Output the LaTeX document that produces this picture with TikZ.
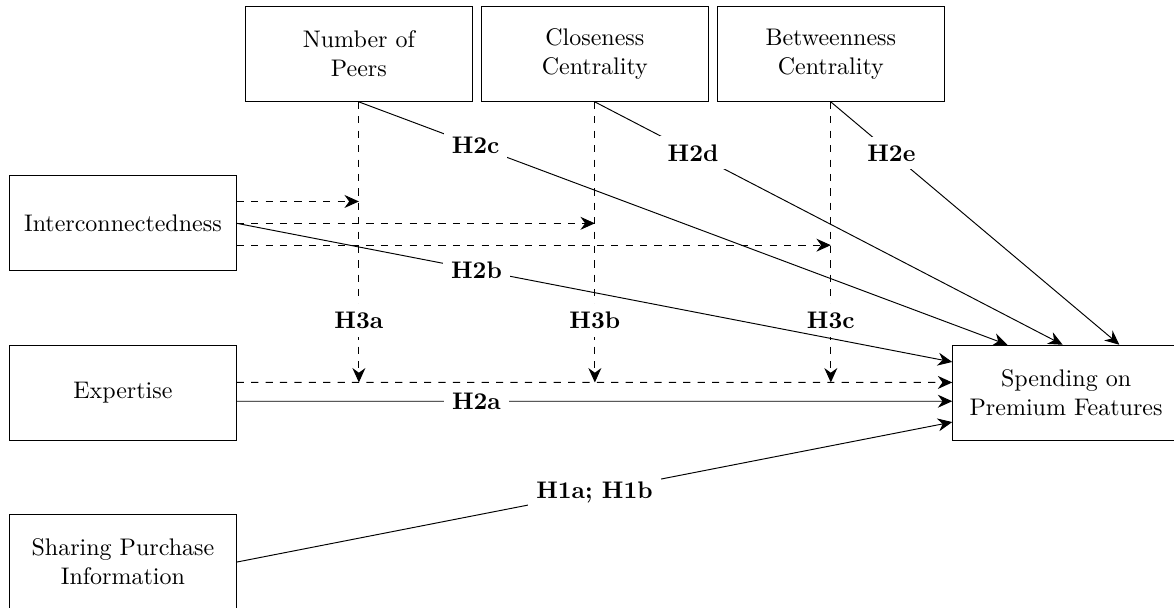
\documentclass[tikz,border=0pt]{standalone}
\usepackage{tikz}
\usetikzlibrary{arrows.meta,positioning,calc}

\tikzset{
  box/.style={draw, rectangle, align=center, minimum width=3.32cm, minimum height=1.39cm},
  lbl/.style={fill=white, font=\bfseries},
  link/.style={-{Stealth[length=6pt, width=5.4pt]}},
  modlink/.style={-{Stealth[length=6pt, width=5.4pt]}, dashed}
}

\begin{document}
\begin{tikzpicture}[node distance=3.455cm]
	\useasboundingbox (-1.80,3.27) rectangle (15.39,-5.62);

	% constructs
	\node[box] (inter) at (0,0) {Interconnectedness};
	\node[box, below of=inter, node distance=2.48cm] (exp) {Expertise};
	\node[box, below of=exp, node distance=2.48cm] (share) {Sharing Purchase\\Information};
	\node[box] (peers) at (3.455,2.48) {Number of\\Peers};
	\node[box, right of=peers] (close) {Closeness\\Centrality};
	\node[box, right of=close] (betw) {Betweenness\\Centrality};
	\node[box] (spend) at (13.81,-2.48) {Spending on\\Premium Features};

	\coordinate (i1) at ([yshift=0.32cm]inter.east);
	\coordinate (i3) at ([yshift=-0.32cm]inter.east);
	\coordinate (e1) at ([yshift=0.15cm]exp.east);

	% moderation
	\draw[modlink] (e1) -- ([yshift=0.15cm]spend.west);
	\foreach \n/\h in {peers/a, close/b, betw/c}
		\draw[modlink] (\n.south) -- node[lbl, pos=0.78] {H3\h} (\n.south |- e1);
	\draw[modlink] (i1) -- (peers.south |- i1);
	\draw[modlink] (inter.east) -- (close.south |- inter.east);
	\draw[modlink] (i3) -- (betw.south |- i3);

	% direct effects
	\draw[link] (peers.south) -- node[lbl, pos=0.18] {H2c} ([xshift=-0.86cm]spend.north);
	\draw[link] (close.south) -- node[lbl, pos=0.21] {H2d} ([xshift=-0.05cm]spend.north);
	\draw[link] (betw.south) -- node[lbl, pos=0.21] {H2e} ([xshift=0.78cm]spend.north);
	\draw[link] (inter.east) -- node[lbl, pos=0.335] {H2b} ([yshift=0.45cm]spend.west);
	\draw[link] ([yshift=-0.125cm]exp.east) -- node[lbl, pos=0.335] {H2a} ([yshift=-0.125cm]spend.west);
	\draw[link] (share.east) -- node[lbl] {H1a; H1b} ([yshift=-0.43cm]spend.west);
\end{tikzpicture}
\end{document}
